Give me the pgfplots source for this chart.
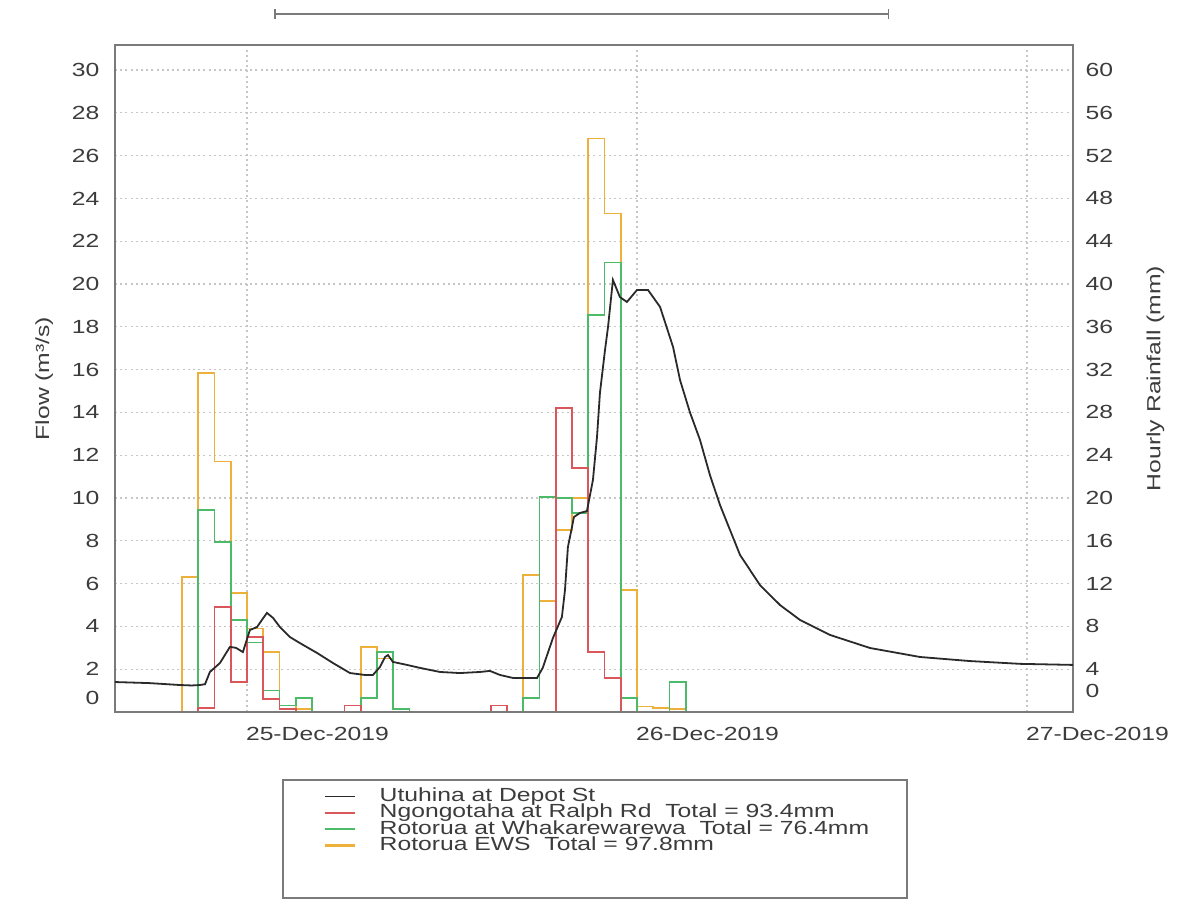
\documentclass[border=0pt]{standalone}
\usepackage{pgfplots}
\pgfplotsset{compat=1.18}
\usepackage{fontspec}
\setmainfont{Liberation Sans}[FakeStretch=1.3]
\definecolor{txt}{HTML}{3C3C3C}
\definecolor{axl}{HTML}{7A7A7A}
\definecolor{grd}{HTML}{C6C6C6}
\definecolor{rred}{HTML}{D9575A}
\definecolor{rgreen}{HTML}{4DBA6A}
\definecolor{ryel}{HTML}{EDB03A}
\definecolor{flowc}{HTML}{2A2A2A}
\begin{document}
\begin{tikzpicture}
\useasboundingbox (0,0) rectangle (590pt,452pt);
\pgfplotsset{every axis/.append style={scale only axis, width=479pt, height=333.5pt,
  at={(57.5pt,96pt)}, anchor=south west, xmin=-8.12, xmax=50.83,
  axis line style={axl, line width=0.8pt}, tick style={draw=none},
  font=\fontsize{9.5}{11}\selectfont, /pgf/number format/assume math mode=true,
  ticklabel style={text=txt}, label style={text=txt}}}
% rainfall axis (right)
\begin{axis}[ymin=0, ymax=62.34, ytick={4,8,...,60}, yticklabel pos=right,
  xtick={0,24,48}, xticklabels={}, grid=major,
  grid style={grd, dash pattern=on 1pt off 1.6pt, line width=0.6pt},
  extra y ticks={2}, extra y tick labels={0}, extra y tick style={grid=none},
  yticklabel style={xshift=2.8pt},
  ylabel={Hourly Rainfall (mm)},
  ylabel style={at={(axis description cs:1.086,0.5)}, anchor=center}]
\addplot[ryel, line width=0.8pt, const plot mark left] coordinates {
(-8.12,0) (-4,12.6) (-3,31.7) (-2,23.4) (-1,11.1) (0,7.8) (1,5.6) (2,0.6) (3,0.3) (4,0)
(6,0.6) (7,6.1) (8,5.0) (9,0.3) (10,0)
(17,12.8) (18,10.4) (19,17.0) (20,20.0) (21,53.6) (22,46.6) (23,11.4) (24,0.5) (25,0.4) (26,0.3) (27,0) (50.83,0)};
\addplot[rgreen, line width=0.8pt, const plot mark left] coordinates {
(-8.12,0) (-3,18.9) (-2,15.9) (-1,8.6) (0,6.5) (1,2.0) (2,0.6) (3,1.3) (4,0)
(7,1.3) (8,5.6) (9,0.3) (10,0)
(17,1.3) (18,20.1) (19,20.0) (20,18.6) (21,37.1) (22,42.0) (23,1.3) (24,0) (26,2.8) (27,0) (50.83,0)};
\addplot[rred, line width=0.8pt, const plot mark left] coordinates {
(-8.12,0) (-3,0.4) (-2,9.8) (-1,2.8) (0,7.0) (1,1.2) (2,0.3) (3,0)
(6,0.6) (7,0) (15,0.6) (16,0)
(19,28.4) (20,22.8) (21,5.6) (22,3.2) (23,0) (50.83,0)};
\end{axis}
% flow axis (left)
\begin{axis}[ymin=0, ymax=31.17, ytick={2,4,...,30},
  xtick={0,24,48}, xticklabels={25-Dec-2019,26-Dec-2019,27-Dec-2019},
  xticklabel style={anchor=north west, xshift=-4pt, yshift=-4.3pt},
  extra y ticks={0.65}, extra y tick labels={0},
  yticklabel style={xshift=-4.3pt},
  ylabel={Flow (m³/s)},
  ylabel style={at={(axis description cs:-0.074,0.5)}, anchor=center},
  clip=false,
  legend cell align=left,
  legend image code/.code={\draw[#1] (0pt,0pt) -- (15pt,0pt);},
  legend style={draw=none, fill=none, at={(axis description cs:0.211,-0.108)}, anchor=north west,
    column sep=12pt, font=\fontsize{9.5}{11}\selectfont, text=txt,
    nodes={inner sep=0pt, text height=6.6pt, text depth=1.55pt}}]
\addplot[flowc, line width=0.9pt] coordinates {
(-8.12,1.40) (-6,1.35) (-4.12,1.26) (-3.4,1.24) (-2.9,1.26) (-2.58,1.30) (-2.28,1.87) (-1.66,2.29)
(-1.05,3.04) (-0.68,3.0) (-0.25,2.8) (0.18,3.83) (0.62,3.97) (0.92,4.3) (1.23,4.63) (1.6,4.4)
(2.03,3.97) (2.65,3.5) (3.26,3.22) (4.31,2.76) (5.29,2.29) (6.34,1.82) (7.26,1.73) (7.75,1.73)
(8.18,2.1) (8.5,2.57) (8.68,2.66) (8.98,2.34) (9.85,2.2) (10.65,2.06) (11.88,1.87) (13.1,1.82)
(14.34,1.87) (14.95,1.92) (15.57,1.73) (16.37,1.59) (17.85,1.59) (18.2,2.06) (18.83,3.46)
(19.38,4.44) (19.57,5.7) (19.75,7.71) (20.0,8.64) (20.12,9.11) (20.49,9.3) (20.92,9.39)
(21.29,10.84) (21.54,12.85) (21.72,14.9) (22.03,16.9) (22.22,18.0) (22.52,20.19) (22.95,19.39)
(23.38,19.16) (24.0,19.72) (24.68,19.72) (25.42,18.93) (26.22,17.06) (26.65,15.51) (27.26,14.0)
(27.88,12.71) (28.49,11.07) (29.11,9.67) (30.34,7.34) (31.57,5.93) (32.8,5.0) (34.03,4.3)
(35.88,3.6) (38.34,2.99) (41.42,2.57) (44.49,2.38) (47.57,2.25) (50.83,2.2)};
\addlegendentry{Utuhina at Depot St}
\addlegendimage{rred, line width=1.1pt}
\addlegendentry{Ngongotaha at Ralph Rd\ \ Total = 93.4mm}
\addlegendimage{rgreen, line width=1.1pt}
\addlegendentry{Rotorua at Whakarewarewa\ \ Total = 76.4mm}
\addlegendimage{ryel, line width=1.1pt}
\addlegendentry{Rotorua EWS\ \ Total = 97.8mm}
\draw[axl, line width=0.6pt] (axis description cs:0.1754,-0.102) rectangle (axis description cs:0.8267,-0.279);
\draw[axl, line width=0.8pt] (axis description cs:0.167,1.0465) -- (axis description cs:0.807,1.0465);
\draw[axl, line width=0.6pt] (axis description cs:0.167,1.054) -- (axis description cs:0.167,1.039);
\draw[axl, line width=0.6pt] (axis description cs:0.807,1.054) -- (axis description cs:0.807,1.039);
\end{axis}
\end{tikzpicture}
\end{document}
